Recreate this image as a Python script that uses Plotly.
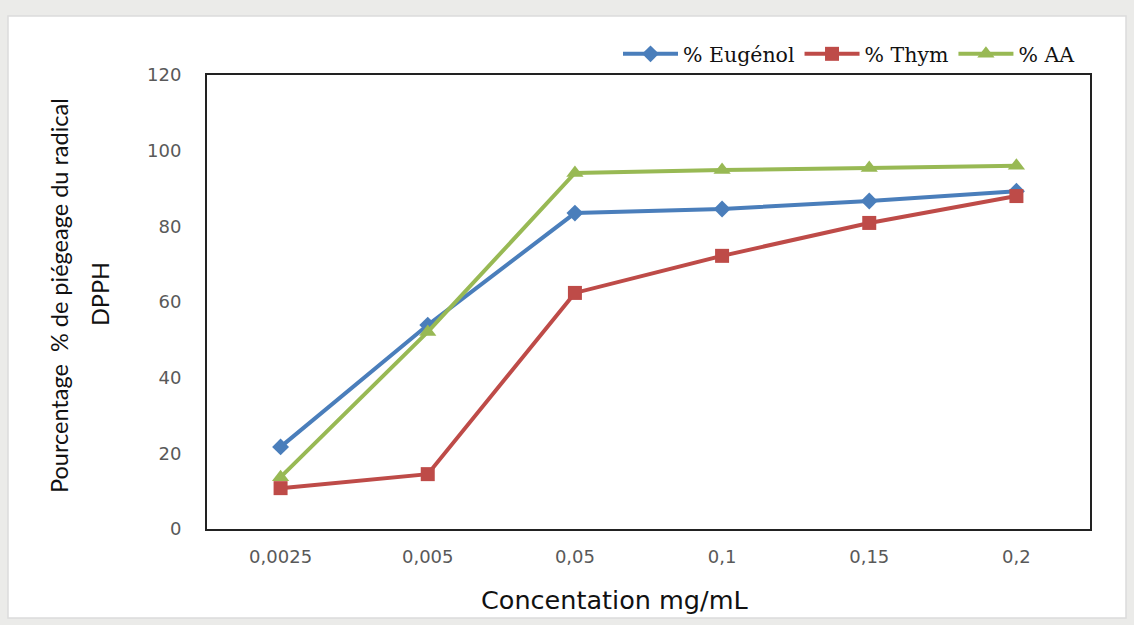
import plotly.graph_objects as go

categories = ["0,0025", "0,005", "0,05", "0,1", "0,15", "0,2"]
eugenol = [21.7, 53.9, 83.5, 84.6, 86.7, 89.3]
thym = [10.8, 14.5, 62.4, 72.2, 80.9, 88.0]
aa = [13.7, 52.1, 94.1, 94.9, 95.4, 96.0]

fig = go.Figure()
fig.add_trace(go.Scatter(x=categories, y=eugenol, name="% Eugénol", mode="lines+markers",
                         line=dict(color="#4A7EBB", width=4),
                         marker=dict(symbol="diamond", size=13, color="#4A7EBB")))
fig.add_trace(go.Scatter(x=categories, y=thym, name="% Thym", mode="lines+markers",
                         line=dict(color="#BE4B48", width=4),
                         marker=dict(symbol="square", size=14, color="#BE4B48")))
fig.add_trace(go.Scatter(x=categories, y=aa, name="% AA", mode="lines+markers",
                         line=dict(color="#98B954", width=4),
                         marker=dict(symbol="triangle-up", size=15, color="#98B954")))

L, R, T, B = 207, 1090, 75, 529
W, H = R - L, B - T

def px(x):
    return (x - L) / W

def py(y):
    return (B - y) / H

fig.add_shape(type="rect", xref="paper", yref="paper",
              x0=px(8), x1=px(1126), y0=py(16), y1=py(618),
              fillcolor="white", line=dict(color="#dcdcdc", width=1.5), layer="below")

title_font = dict(family="Lato, sans-serif", size=23.5, color="#111")
fig.add_annotation(text="Pourcentage  % de piégeage du radical", xref="paper", yref="paper",
                   x=px(59), y=py(296), textangle=-90, showarrow=False, font=title_font,
                   xanchor="center", yanchor="middle")
fig.add_annotation(text="DPPH", xref="paper", yref="paper",
                   x=px(100), y=py(294), textangle=-90, showarrow=False, font=title_font,
                   xanchor="center", yanchor="middle")
fig.add_annotation(text="Concentation mg/mL", xref="paper", yref="paper",
                   x=px(614), y=py(600), showarrow=False,
                   font=dict(family="DejaVu Sans, sans-serif", size=25.5, color="#111"),
                   xanchor="center", yanchor="middle")

tick_font = dict(family="DejaVu Sans, sans-serif", size=18, color="#595959")

fig.update_layout(
    width=1134, height=625,
    margin=dict(l=L, r=1134 - R, t=T, b=625 - B),
    paper_bgcolor="#ebebe9",
    plot_bgcolor="white",
    showlegend=True,
    legend=dict(orientation="h", x=px(1080), xanchor="right", y=py(34), yanchor="top",
                font=dict(family="DejaVu Serif, serif", size=20.5, color="#111"),
                bgcolor="rgba(0,0,0,0)", itemwidth=55, tracegroupgap=0),
    xaxis=dict(type="category", range=[-0.5, 5.5], showgrid=False, showline=True,
               linecolor="#222", linewidth=2, mirror=True, ticks="", tickfont=tick_font,
               ticklabelstandoff=10),
    yaxis=dict(range=[0, 120], dtick=20, showgrid=False, showline=True, linecolor="#222",
               linewidth=2, mirror=True, ticks="", tickfont=tick_font,
               zeroline=False, ticklabelstandoff=20),
)

fig.write_html("out.html")
